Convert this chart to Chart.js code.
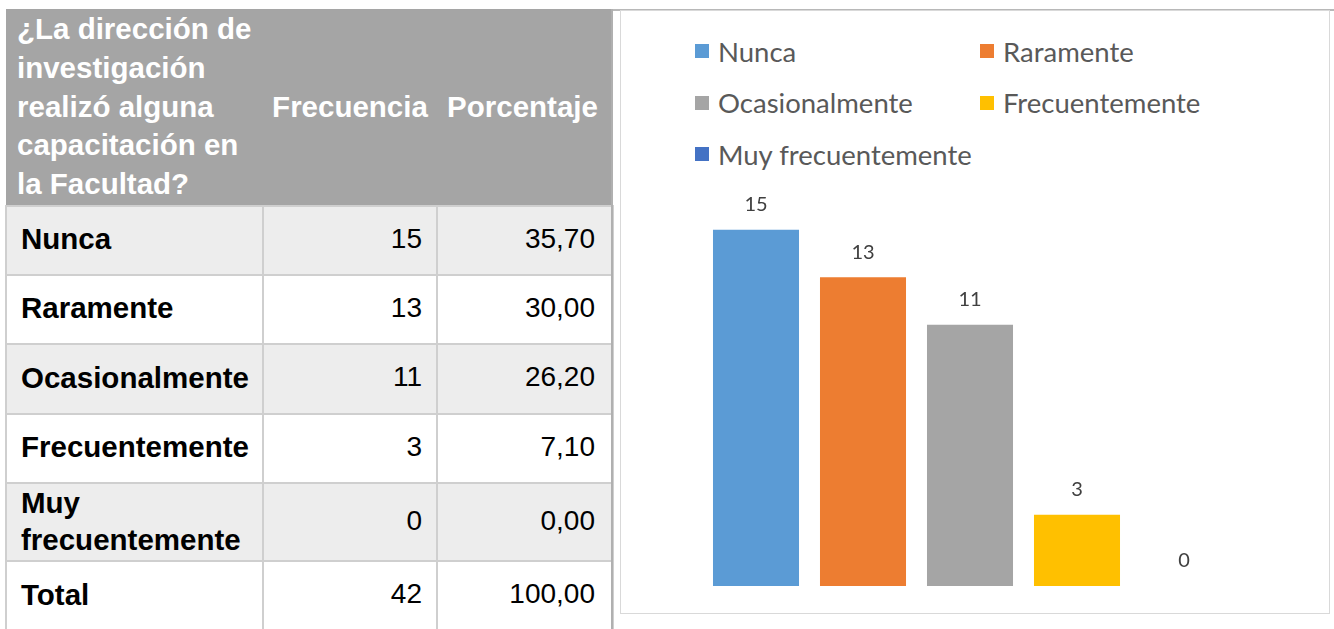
<!DOCTYPE html>
<html lang="es">
<head>
<meta charset="utf-8">
<title>Capacitación en la Facultad</title>
<script src="https://cdn.jsdelivr.net/npm/chart.js@4/dist/chart.umd.min.js"></script>
<style>
  html, body { margin: 0; padding: 0; background: #fff; }
  body { width: 1334px; height: 629px; position: relative; overflow: hidden; }
  #tabla { position: absolute; left: 5px; top: 9px; width: 607px; border-collapse: collapse; table-layout: fixed;
           font-family: 'Liberation Sans', Arial, sans-serif; font-size: 28px; color: #000; }
  #tabla th { background: #a5a5a5; color: #fff; font-weight: bold; font-size: 29.5px; padding: 0; height: 196px; }
  #tabla th.q { text-align: left; padding-left: 11px; line-height: 38.8px; vertical-align: middle; }
  #tabla th.p { padding-right: 5px; }
  #tabla td { border: 2px solid #cfcfcf; padding: 0 14px 4px 14px; }
  #tabla td.lbl { font-weight: bold; font-size: 29.5px; line-height: 39px; }
  #tabla tr.doble td { padding-bottom: 2px; }
  #tabla tr.doble td.lbl { line-height: 37px; }
  #tabla td.num { text-align: right; }
  #tabla td.pct { padding-right: 17px; }
  #tabla tr.alt td { background: #ededed; }
  #borde { position: absolute; left: 611px; top: 9px; width: 2px; height: 620px; background: #b0b0b0; }
  #caja { position: absolute; left: 620px; top: 10px; width: 708px; height: 602px; border: 1px solid #d9d9d9; }
  #lineaSup { position: absolute; left: 613px; top: 9px; width: 721px; height: 2px; background: #b8b8b8; }
  #leyenda { position: absolute; left: 74px; top: 14.5px; display: grid; grid-template-columns: 285px 260px; row-gap: 0;
             font-family: Lato, 'Open Sans', sans-serif; font-size: 27.5px; color: #595959; }
  #leyenda div { height: 51.5px; display: flex; align-items: center; white-space: nowrap; }
  #leyenda span { display: inline-block; width: 14px; height: 14px; margin-right: 9px; }
  #grafico { position: absolute; left: 620px; top: 186px; width: 710px; height: 424px; }
</style>
</head>
<body>
<table id="tabla">
  <colgroup><col style="width:257px"><col style="width:174px"><col style="width:176px"></colgroup>
  <thead>
    <tr>
      <th class="q">¿La dirección de<br>investigación<br>realizó alguna<br>capacitación en<br>la Facultad?</th>
      <th>Frecuencia</th>
      <th class="p">Porcentaje</th>
    </tr>
  </thead>
  <tbody id="cuerpo"></tbody>
</table>
<div id="borde"></div>
<div id="lineaSup"></div>
<div id="caja"><div id="leyenda"></div></div>
<div id="grafico"><canvas id="barras"></canvas></div>

<script>
const categorias = ['Nunca', 'Raramente', 'Ocasionalmente', 'Frecuentemente', 'Muy frecuentemente'];
const etiquetasTabla = ['Nunca', 'Raramente', 'Ocasionalmente', 'Frecuentemente', 'Muy<br>frecuentemente'];
const frecuencias = [15, 13, 11, 3, 0];
const porcentajes = [35.7, 30.0, 26.2, 7.1, 0.0];
const totalFrecuencia = 42;
const totalPorcentaje = 100;
const colores = ['#5B9BD5', '#ED7D31', '#A5A5A5', '#FFC000', '#4472C4'];

const alturasFila = [69, 69, 70, 69, 76, 70];

function fmt(v) { return v.toFixed(2).replace('.', ','); }

function renderTabla() {
  const filas = etiquetasTabla.map((c, i) => ({ c, f: frecuencias[i], p: fmt(porcentajes[i]) }));
  filas.push({ c: 'Total', f: totalFrecuencia, p: fmt(totalPorcentaje) });
  document.getElementById('cuerpo').innerHTML = filas.map((r, i) => {
    const cls = (i % 2 === 0 ? 'alt' : '') + (r.c.includes('<br>') ? ' doble' : '');
    return `
    <tr class="${cls}" style="height:${alturasFila[i]}px">
      <td class="lbl">${r.c}</td>
      <td class="num">${r.f}</td>
      <td class="num pct">${r.p}</td>
    </tr>`;
  }).join('');
}

function renderLeyenda() {
  document.getElementById('leyenda').innerHTML = categorias.map((c, i) =>
    `<div><span style="background:${colores[i]}"></span>${c}</div>`).join('');
}

// valores encima de cada barra
const etiquetasValor = {
  id: 'etiquetasValor',
  afterDatasetsDraw(chart) {
    const ctx = chart.ctx;
    const meta = chart.getDatasetMeta(0);
    ctx.save();
    ctx.font = '20px Lato, "Open Sans", sans-serif';
    ctx.fillStyle = '#404040';
    ctx.textAlign = 'center';
    ctx.textBaseline = 'middle';
    meta.data.forEach((bar, i) => {
      ctx.fillText(String(chart.data.datasets[0].data[i]), bar.x, bar.y - 25);
    });
    ctx.restore();
  }
};

function renderGrafico() {
  new Chart(document.getElementById('barras').getContext('2d'), {
    type: 'bar',
    data: {
      labels: categorias,
      datasets: [{ data: frecuencias, backgroundColor: colores, borderWidth: 0,
                   categoryPercentage: 1, barPercentage: 0.804 }]
    },
    options: {
      responsive: true, maintainAspectRatio: false, animation: false,
      layout: { padding: { left: 82.5, right: 92.5, top: 20, bottom: 24 } },
      plugins: { legend: { display: false }, tooltip: { enabled: false } },
      scales: {
        x: { display: false },
        y: { display: false, min: 0, max: 16 }
      }
    },
    plugins: [etiquetasValor]
  });
}

document.addEventListener('DOMContentLoaded', () => {
  renderTabla();
  renderLeyenda();
  renderGrafico();
});
</script>
</body>
</html>
